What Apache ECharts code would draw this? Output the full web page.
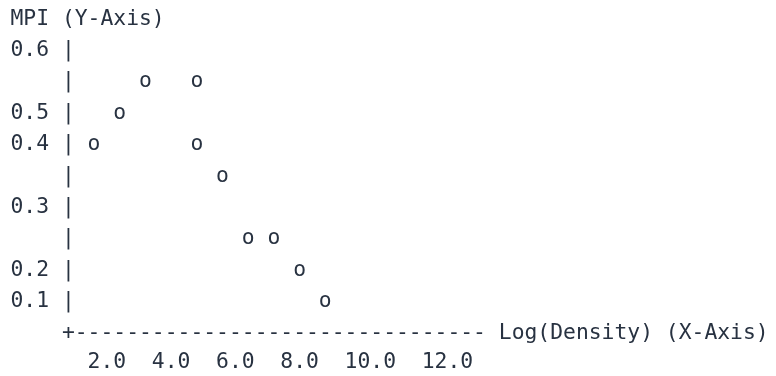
<!DOCTYPE html>
<html>
<head>
<meta charset="utf-8">
<script src="https://cdn.jsdelivr.net/npm/echarts@6/dist/echarts.min.js"></script>
<style>
html,body{margin:0;padding:0;background:#ffffff;}
#chart{width:776px;height:376px;}
</style>
</head>
<body>
<div id="chart"></div>
<script>
// ---- data ----
var yAxisTitle = 'MPI (Y-Axis)';
var xAxisTitle = 'Log(Density) (X-Axis)';
var yRows = ['0.6', '0.55', '0.5', '0.4', '0.35', '0.3', '0.25', '0.2', '0.1'];
var yTickLabels = ['0.6', '', '0.5', '0.4', '', '0.3', '', '0.2', '0.1'];
var xTickLabels = ['2.0', '4.0', '6.0', '8.0', '10.0', '12.0'];
var logDensity = [1.6, 2.4, 3.2, 4.8, 4.8, 5.6, 6.4, 7.2, 8.0, 8.8];
var mpi = ['0.4', '0.5', '0.55', '0.55', '0.4', '0.35', '0.25', '0.25', '0.2', '0.1'];

// ---- layout ----
var FONT = 'DejaVu Sans Mono';
var FS = 21.35;
var CW = 12.85;            // character advance
var TEXT_X = 10.5;         // left edge of column 0
var COLOR = '#283241';
var ROW = 31.4;            // line height
var ROW0 = 19;             // centre of first text line
var gridLeft = 42.6;
var gridTop = ROW0 + ROW - ROW / 2;
var gridH = ROW * yRows.length;
var fontStr = FS + 'px "' + FONT + '"';

var points = logDensity.map(function (x, i) { return [x, mpi[i]]; });

var chart = echarts.init(document.getElementById('chart'), null, { renderer: 'canvas' });
chart.setOption({
  backgroundColor: '#ffffff',
  animation: false,
  grid: { left: gridLeft, top: gridTop, width: 642.5, height: gridH, containLabel: false },
  xAxis: {
    type: 'value', min: 0, max: 20,
    show: false
  },
  yAxis: {
    type: 'category', data: yRows, inverse: true,
    boundaryGap: true,
    axisLine: { show: false }, axisTick: { show: false }, splitLine: { show: false },
    axisLabel: {
      show: true, align: 'left', margin: gridLeft - TEXT_X,
      fontFamily: FONT, fontSize: FS, color: COLOR,
      formatter: function (v, i) {
        var t = yTickLabels[i];
        return (t === '' ? '   ' : t) + ' |';
      }
    }
  },
  graphic: [
    { type: 'text', x: TEXT_X, y: ROW0, silent: true,
      style: { text: yAxisTitle, font: fontStr, fill: COLOR, verticalAlign: 'middle' } },
    { type: 'text', x: TEXT_X + 4 * CW, y: ROW0 + ROW * 10, silent: true,
      style: { text: '+' + '-'.repeat(32) + ' ' + xAxisTitle, font: fontStr, fill: COLOR, verticalAlign: 'middle' } },
    { type: 'text', x: TEXT_X, y: ROW0 + ROW * 11 - 1.5, silent: true,
      style: { text: '      ' + xTickLabels.join('  '), font: fontStr, fill: COLOR, verticalAlign: 'middle' } }
  ],
  series: [{
    type: 'scatter',
    data: points,
    symbolSize: 1,
    itemStyle: { color: 'rgba(0,0,0,0)', opacity: 1 },
    emphasis: { disabled: true },
    label: {
      show: true, position: 'inside', formatter: 'o',
      fontFamily: FONT, fontSize: FS, color: COLOR,
      opacity: 1, textBorderWidth: 0
    }
  }]
});
</script>
</body>
</html>
